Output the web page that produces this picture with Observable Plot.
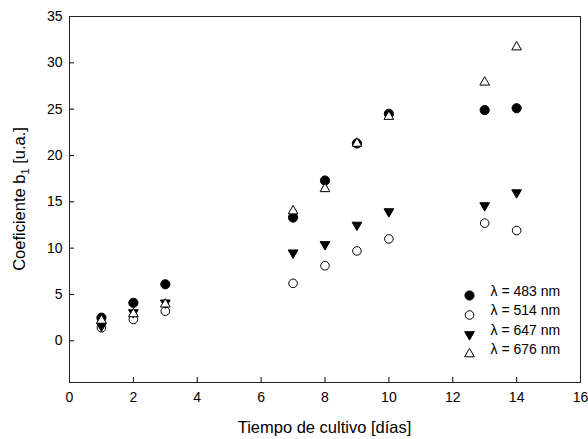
<!DOCTYPE html>
<html>
<head>
<meta charset="utf-8">
<script src="https://cdn.jsdelivr.net/npm/d3@7"></script>
<script src="https://cdn.jsdelivr.net/npm/@observablehq/plot@0.6"></script>
<style>
  html, body { margin: 0; padding: 0; background: #fff; }
  #chart { width: 588px; height: 439px; }
  svg { font-family: "Liberation Sans", Arial, sans-serif; }
</style>
</head>
<body>
<div id="chart"></div>
<script>
// ---- data ----
const days = [1, 2, 3, 7, 8, 9, 10, 13, 14];
const s483 = [2.5, 4.1, 6.1, 13.3, 17.3, 21.3, 24.5, 24.9, 25.1];
const s514 = [1.4, 2.3, 3.2, 6.2, 8.1, 9.7, 11.0, 12.7, 11.9];
const s647 = [1.6, 3.05, 4.1, 9.5, 10.4, 12.5, 13.95, 14.6, 16.0];
const s676 = [2.2, 2.9, 3.95, 14.0, 16.4, 21.3, 24.2, 27.9, 31.7];
const seriesLabels = ["λ = 483 nm", "λ = 514 nm", "λ = 647 nm", "λ = 676 nm"];
const xTicks = [0, 2, 4, 6, 8, 10, 12, 14, 16];
const yTicks = [0, 5, 10, 15, 20, 25, 30, 35];
const xTitle = "Tiempo de cultivo [días]";
const yTitleMain = "Coeficiente b";
const yTitleSub = "1";
const yTitleEnd = " [u.a.]";

// marker styles per series
const styles = [
  {symbol: "circle", fill: "black", stroke: "black", r: 4.6, rotate: 0},
  {symbol: "circle", fill: "white", stroke: "black", r: 4.3, rotate: 0},
  {symbol: "triangle", fill: "black", stroke: "black", r: 3.6, rotate: 180},
  {symbol: "triangle", fill: "white", stroke: "black", r: 3.6, rotate: 0}
];
const values = [s483, s514, s647, s676];
const drawOrder = [1, 2, 0, 3];

const seriesMarks = drawOrder.map(i => {
  const st = styles[i];
  const data = days.map((d, j) => ({x: d, y: values[i][j]}));
  return Plot.dot(data, {
    x: "x", y: "y", symbol: () => st.symbol, r: st.r, rotate: st.rotate,
    fill: st.fill, stroke: st.stroke, strokeWidth: 1
  });
});

// legend inside frame, anchored to bottom-right of the frame
const legendMarks = [];
seriesLabels.forEach((lab, i) => {
  const st = styles[i];
  const dy = -87 + i * 19.5;
  legendMarks.push(Plot.dot([lab], {
    frameAnchor: "bottom-right", dx: -111, dy,
    symbol: () => st.symbol, r: st.r, rotate: st.rotate,
    fill: st.fill, stroke: st.stroke, strokeWidth: 1
  }));
  legendMarks.push(Plot.text([lab], {
    text: d => d, frameAnchor: "bottom-right", dx: -90, dy,
    textAnchor: "start", fontSize: 14, fill: "black"
  }));
});

const chart = Plot.plot({
  width: 588,
  height: 439,
  marginLeft: 69,
  marginRight: 8,
  marginTop: 16,
  marginBottom: 57,
  style: {fontFamily: "Liberation Sans, Arial, sans-serif", fontSize: "14px", color: "black", background: "white"},
  x: {domain: [0, 16], ticks: xTicks, label: null},
  y: {domain: [-4.5, 35], ticks: yTicks, label: null},
  marks: [
    Plot.axisX(xTicks, {tickSize: -5, tickPadding: 15, fontSize: 14, label: null, stroke: "black"}),
    Plot.axisY(yTicks, {tickSize: -5, tickPadding: 12, fontSize: 14, label: null, stroke: "black"}),
    Plot.frame({stroke: "#222", strokeWidth: 1}),
    ...seriesMarks,
    ...legendMarks
  ]
});

const svg = d3.select(chart.tagName === "svg" ? chart : chart.querySelector("svg"));
// x title
svg.append("text")
  .attr("x", 324.5).attr("y", 433)
  .attr("text-anchor", "middle")
  .attr("font-size", 16.5)
  .attr("fill", "black")
  .text(xTitle);
// y title with subscript
const yt = svg.append("text")
  .attr("transform", "translate(25,199) rotate(-90)")
  .attr("text-anchor", "middle")
  .attr("font-size", 16.5)
  .attr("fill", "black");
yt.append("tspan").text(yTitleMain);
yt.append("tspan").attr("font-size", 11).attr("dy", 4).text(yTitleSub);
yt.append("tspan").attr("dy", -4).text(yTitleEnd);

document.getElementById("chart").appendChild(chart);
</script>
</body>
</html>
